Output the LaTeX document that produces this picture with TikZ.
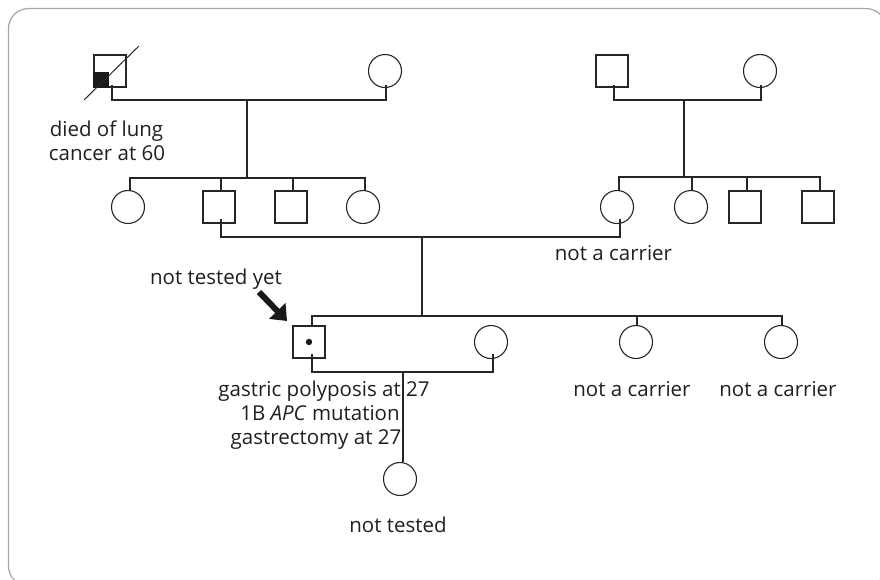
\documentclass[tikz,border=0pt]{standalone}
\usepackage{fontspec}
\setmainfont{Open Sans}
\usetikzlibrary{arrows.meta}
\newcommand{\lblfont}{\fontsize{20.5pt}{24pt}\selectfont}
\begin{document}
\begin{tikzpicture}[x=1pt,y=-1pt,
  male/.style={draw=black!85, rectangle, minimum size=32pt, inner sep=0pt, line width=1.1pt},
  female/.style={draw=black!85, circle, minimum size=33pt, inner sep=0pt, line width=1.1pt},
  pline/.style={line width=1.3pt, draw=black!85},
  lbl/.style={font=\lblfont, text=black!88, inner sep=0pt, anchor=base},
  frame/.style={draw=black!35, line width=1.2pt, rounded corners=20pt}]
\useasboundingbox (0,0) rectangle (880,579);
\begin{scope}
\clip (0,0) rectangle (880,579);
\draw[frame] (8.5,8.5) rectangle (886,586);
\end{scope}

% Generation I
\node[male] (I1) at (110,71) {};
\node[female] (I2) at (385,71) {};
\node[male] (I3) at (612,71) {};
\node[female] (I4) at (760,71) {};
\fill[black!90] (I1.south west) rectangle ([shift={(-1,1)}]I1.center);
\draw[line width=1pt, black!85] (84,100) -- (139,46);

\coordinate (m1) at (247,100);
\coordinate (s1) at (247,178);
\coordinate (m2) at (684,100);
\coordinate (s2) at (684,177);

\draw[pline] ([shift={(2,-3)}]I1.south) -- ([xshift=2pt]I1.south |- m1) -- ([xshift=1pt]I2.south |- m1) -- ([shift={(1,-3)}]I2.south);
\draw[pline] (m1) -- (s1);
\draw[pline] ([shift={(2,-3)}]I3.south) -- ([xshift=2pt]I3.south |- m2) -- ([xshift=1pt]I4.south |- m2) -- ([shift={(1,-3)}]I4.south);
\draw[pline] (m2) -- (s2);

% Generation II
\node[female] (II1) at (128,207) {};
\node[male] (II2) at (219,207) {};
\node[male] (II3) at (291,207) {};
\node[female] (II4) at (363,207) {};
\node[female] (II5) at (617,207) {};
\node[female] (II6) at (691,207) {};
\node[male] (II7) at (745,207) {};
\node[male] (II8) at (818,207) {};

\draw[pline] ([xshift=2pt]II1.north) -- ([xshift=2pt]II1.north |- s1) -- ([xshift=2pt]II4.north |- s1) -- ([xshift=2pt]II4.north);
\draw[pline] ([xshift=2pt]II2.north) -- ([xshift=2pt]II2.north |- s1);
\draw[pline] ([xshift=2pt]II3.north) -- ([xshift=2pt]II3.north |- s1);
\draw[pline] ([xshift=2pt]II5.north) -- ([xshift=2pt]II5.north |- s2) -- ([xshift=2pt]II8.north |- s2) -- ([xshift=2pt]II8.north);
\draw[pline] ([xshift=1pt]II6.north) -- ([xshift=1pt]II6.north |- s2);
\draw[pline] ([xshift=2pt]II7.north) -- ([xshift=2pt]II7.north |- s2);

\coordinate (m3) at (422,237);
\coordinate (s3) at (422,316);
\draw[pline] ([shift={(2,-5)}]II2.south) -- ([xshift=2pt]II2.south |- m3) -- ([xshift=3pt]II5.south |- m3) -- ([shift={(3,-5)}]II5.south);
\draw[pline] (m3) -- (s3);

% Generation III
\node[male] (III1) at (309,342) {};
\node[female] (III2) at (491,342) {};
\node[female] (III3) at (636,342) {};
\node[female] (III4) at (781,342) {};
\fill[black!90] (III1.center) circle (3.2);

\draw[pline] ([xshift=3pt]III1.north) -- ([xshift=3pt]III1.north |- s3) -- ([xshift=1pt]III4.north |- s3) -- ([xshift=1pt]III4.north);
\draw[pline] ([xshift=1pt]III3.north) -- ([xshift=1pt]III3.north |- s3);

\coordinate (m4) at (403,372);
\draw[pline] ([shift={(3,-5)}]III1.south) -- ([xshift=3pt]III1.south |- m4) -- ([xshift=2pt]III2.south |- m4) -- ([shift={(2,-5)}]III2.south);

% Generation IV
\node[female] (IV1) at (400,479) {};
\draw[pline] (m4) -- ([xshift=3pt]IV1.north);

% Arrow
\coordinate (a1) at (259,292);
\coordinate (a2) at (287,321);
\draw[line width=6pt, black!90, -{Triangle[length=14pt,width=22pt]}] (a1) -- (a2);

% Labels
\node[lbl] (t1a) at (106.5,136) {died of lung};
\node[lbl] (t1b) at (107,160) {cancer at 60};
\node[lbl] (t2) at (613.5,260) {not a carrier};
\node[lbl] (t3) at (216,284) {not tested yet};
\node[lbl] (t4a) at (324,396) {gastric polyposis at 27};
\node[lbl] (t4b) at (320,420) {1B \textit{APC} mutation};
\node[lbl] (t4c) at (316,444) {gastrectomy at 27};
\node[lbl] (t5) at (632,396) {not a carrier};
\node[lbl] (t6) at (778,396) {not a carrier};
\node[lbl] (t7) at (398,532) {not tested};
\end{tikzpicture}
\end{document}
